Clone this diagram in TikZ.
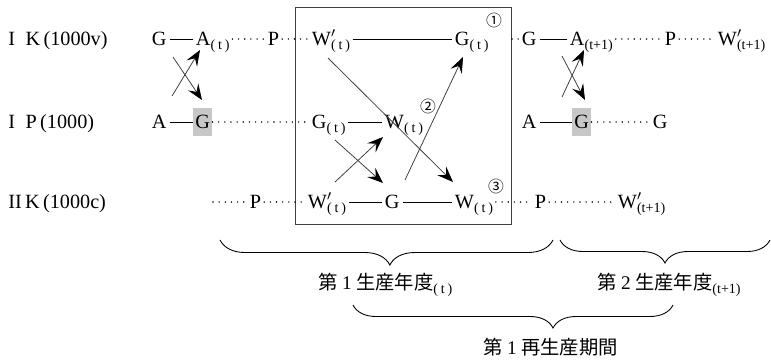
\documentclass[tikz,border=0pt]{standalone}
\usepackage{fontspec}
\setmainfont{Liberation Serif}
\newfontfamily\jpfont{Noto Sans CJK JP}
\usetikzlibrary{arrows.meta,decorations.pathreplacing}
\newcommand\tsub[1]{\raisebox{-2.2pt}{\fontsize{8}{8}\selectfont(#1)}}
\newcommand\subt{\tsub{\hspace{1.6pt}t\hspace{1.6pt}}}
\newcommand\subtn{\tsub{t+1}}
\newcommand\wpr{W\rlap{$'$}}

\begin{document}
\begin{tikzpicture}[x=0.02cm, y=-0.02cm,
    font=\fontsize{11.5}{13}\selectfont,
    term/.style={anchor=west, inner xsep=1.5pt, inner ysep=0pt, text height=8pt, text depth=0.5pt},
    screened/.style={term, fill=black!22, inner xsep=1.2pt, inner ysep=3.5pt},
    rowlab/.style={term, inner xsep=0pt},
    circnum/.style={inner sep=0pt, font=\jpfont\fontsize{9}{9}\selectfont},
    link/.style={line width=0.5pt},
    dotline/.style={line width=0.9pt, line cap=round, dash pattern=on 0pt off 3.5pt},
    arr/.style={line width=0.45pt, draw=black!75, -{Stealth[length=9pt, width=7pt, inset=3.5pt, black]}},
    brc/.style={line width=0.5pt, decorate},
    yearlab/.style={anchor=west, inner sep=0pt, font=\fontsize{11}{13}\selectfont}]
  \useasboundingbox (0,0) rectangle (771,360);

  \node[rowlab] (ik)  at (8,39)  {I\hspace{6pt}K\,(1000v)};
  \node[rowlab] (ip)  at (8,122) {I\hspace{6pt}P\,(1000)};
  \node[rowlab] (iik) at (8,202) {II\,K\,(1000c)};

  \draw[line width=0.5pt, draw=black!75] (295,7) rectangle (511,224);

  \node[term] (g1)  at (149,39) {G};
  \node[term] (a1)  at (193,39) {A\subt};
  \node[term] (p1)  at (265,39) {P};
  \node[term] (w1)  at (309,39) {\wpr\subt};
  \node[term] (gt1) at (452,39) {G\subt};
  \node[circnum] (c1) at (494,20) {①};
  \coordinate (e1) at (512,39);
  \node[term] (g1r) at (519,39) {G};
  \node[term] (a1r) at (567,39) {A\subtn};
  \node[term] (p1r) at (662,39) {P};
  \node[term] (w1r) at (715,39) {\wpr\subtn};

  \node[term] (a2)  at (149,122) {A};
  \node[screened] (g2) at (193,122) {G};
  \node[term] (gt2) at (309,122) {G\subt};
  \node[term] (w2)  at (382,122) {W\subt};
  \node[circnum] (c2) at (428,106) {②};
  \node[term] (a2r) at (519,122) {A};
  \node[screened] (g2r) at (572,122) {G};
  \node[term] (g2e) at (650,122) {G};

  \coordinate (s3) at (213,202);
  \node[term] (p3)  at (247,202) {P};
  \node[term] (w3)  at (305,202) {\wpr\subt};
  \node[term] (g3)  at (382,202) {G};
  \node[term] (wt3) at (452,202) {W\subt};
  \node[circnum] (c3) at (496,186) {③};
  \node[term] (p3r) at (532,202) {P};
  \node[term] (w3r) at (615,202) {\wpr\subtn};

  \draw[link] (g1) -- (a1);
  \draw[link] (w1) -- (gt1);
  \draw[link] (g1r) -- (a1r);
  \draw[link] (a2) -- (g2);
  \draw[link] (gt2) -- (w2);
  \draw[link] (a2r) -- (g2r);
  \draw[link] (w3) -- (g3);
  \draw[link] (g3) -- (wt3);

  \draw[dotline] (a1) -- (p1);
  \draw[dotline] (p1) -- (w1);
  \draw[dotline] (e1) -- (g1r);
  \draw[dotline] (a1r) -- (p1r);
  \draw[dotline] (p1r) -- (w1r);
  \draw[dotline] (g2) -- (gt2);
  \draw[dotline] (g2r) -- (g2e);
  \draw[dotline] (s3) -- (p3);
  \draw[dotline] (p3) -- (w3);
  \draw[dotline] (wt3) -- (p3r);
  \draw[dotline] (p3r) -- (w3r);

  \coordinate (xl1) at (172,96);  \coordinate (xl2) at (200,50);
  \coordinate (xl3) at (173,57);  \coordinate (xl4) at (202,100);
  \coordinate (xr1) at (562,97);  \coordinate (xr2) at (584,50);
  \coordinate (xr3) at (562,56);  \coordinate (xr4) at (585,100);
  \coordinate (xm1) at (335,182); \coordinate (xm2) at (383,137);
  \coordinate (xm3) at (335,140); \coordinate (xm4) at (383,183);
  \coordinate (up1) at (405,180); \coordinate (up2) at (463,57);
  \coordinate (dn1) at (328,58);  \coordinate (dn2) at (453,182);
  \draw[arr] (xl1) -- (xl2);
  \draw[arr] (xl3) -- (xl4);
  \draw[arr] (xr1) -- (xr2);
  \draw[arr] (xr3) -- (xr4);
  \draw[arr] (xm1) -- (xm2);
  \draw[arr] (xm3) -- (xm4);
  \draw[arr] (up1) -- (up2);
  \draw[arr] (dn1) -- (dn2);

  \draw[brc, decoration={brace, mirror, amplitude=0.5cm, aspect=0.51}] (220,240) -- (553,240);
  \draw[brc, decoration={brace, mirror, amplitude=0.46cm, aspect=0.5}] (560,240) -- (770,240);
  \draw[brc, decoration={brace, mirror, amplitude=0.46cm, aspect=0.625}] (353,305) -- (673,305);

  \node[yearlab] (yr1) at (318,285) {{\jpfont 第}\hspace{2.5pt}1\hspace{2.5pt}{\jpfont 生産年度}\subt};
  \node[yearlab] (yr2) at (597,285) {{\jpfont 第}\hspace{2.5pt}2\hspace{2.5pt}{\jpfont 生産年度}\subtn};
  \node[yearlab] (per1) at (483,347) {{\jpfont 第}\hspace{2.5pt}1\hspace{2.5pt}{\jpfont 再生産期間}};
\end{tikzpicture}
\end{document}
